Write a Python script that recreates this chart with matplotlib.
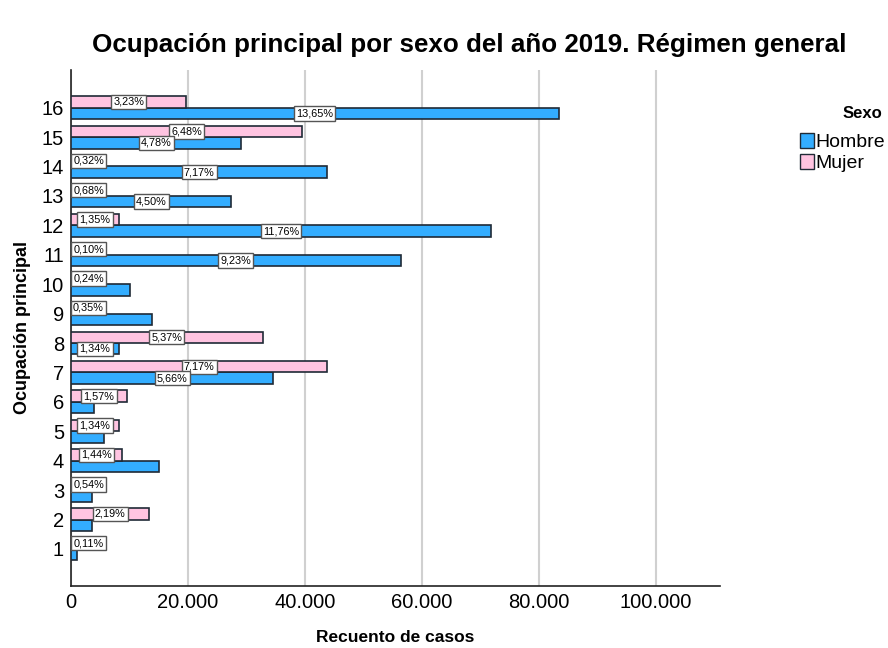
import matplotlib.pyplot as plt
from matplotlib.patches import Patch

plt.rcParams['font.family'] = ['Liberation Sans', 'DejaVu Sans']

# Ocupación principal 1..16
categorias = list(range(1, 17))
hombre = [1030, 3600, 3600, 15070, 5650, 3940, 34580, 8190,
          13900, 10100, 56400, 71750, 27400, 43800, 29100, 83400]
mujer = [672, 13380, 3300, 8800, 8190, 9590, 43800, 32800,
         2140, 1466, 611, 8250, 4150, 1955, 39590, 19730]
etiquetas_hombre = [None, None, None, None, None, None, '5,66%', '1,34%',
                    None, None, '9,23%', '11,76%', '4,50%', '7,17%', '4,78%', '13,65%']
etiquetas_mujer = ['0,11%', '2,19%', '0,54%', '1,44%', '1,34%', '1,57%', '7,17%', '5,37%',
                   '0,35%', '0,24%', '0,10%', '1,35%', '0,68%', '0,32%', '6,48%', '3,23%']

color_h = '#33adff'
color_m = '#ffc4e1'
edge = '#1f2a36'

fig = plt.figure(figsize=(8.88, 6.48), dpi=100)
ax = fig.add_axes([71 / 888, 1 - 586 / 648, (720 - 71) / 888, (586 - 70) / 648])

# mujer arriba, hombre abajo dentro de cada categoria
h = 0.39
y_m = [c + h / 2 for c in categorias]
y_h = [c - h / 2 for c in categorias]
ax.barh(y_h, hombre, height=h, color=color_h, edgecolor=edge, linewidth=1.2, zorder=3)
ax.barh(y_m, mujer, height=h, color=color_m, edgecolor=edge, linewidth=1.2, zorder=3)

box = dict(boxstyle='square,pad=0.2', fc='white', ec='#555555', lw=1)


def etiquetar(ys, vals, labels):
    for y, v, t in zip(ys, vals, labels):
        if t is None:
            continue
        x = max(v / 2, 3000)
        ax.text(x, y, t, ha='center', va='center', fontsize=7.8,
                bbox=box, zorder=5)


etiquetar(y_m, mujer, etiquetas_mujer)
etiquetar(y_h, hombre, etiquetas_hombre)

ax.set_xlim(0, 111000)
ax.set_ylim(-0.26, 17.28)
ax.set_yticks(categorias)
ax.set_yticklabels([str(c) for c in categorias], fontsize=14.5)
xt = [0, 20000, 40000, 60000, 80000, 100000]
ax.set_xticks(xt)
ax.set_xticklabels(['0', '20.000', '40.000', '60.000', '80.000', '100.000'], fontsize=14.5)
ax.tick_params(length=0, pad=5)
ax.grid(axis='x', color='#d0d0d0', linewidth=1.5, zorder=0)
ax.set_axisbelow(True)
for s in ['top', 'right']:
    ax.spines[s].set_visible(False)
for s in ['left', 'bottom']:
    ax.spines[s].set_color('#222222')
    ax.spines[s].set_linewidth(1.2)

ax.set_xlabel('Recuento de casos', fontsize=12.5, fontweight='bold', labelpad=13)
ax.set_ylabel('Ocupación principal', fontsize=13, fontweight='bold', labelpad=8)
fig.text(469 / 888, 1 - 45 / 648, 'Ocupación principal por sexo del año 2019. Régimen general',
         ha='center', va='center', fontsize=18.7, fontweight='bold')

fig.text(862 / 888, 1 - 113 / 648, 'Sexo', ha='center', va='center',
         fontsize=12, fontweight='bold')
handles = [Patch(facecolor=color_h, edgecolor=edge, label='Hombre'),
           Patch(facecolor=color_m, edgecolor=edge, label='Mujer')]
leg = fig.legend(handles=handles, loc='upper left',
                 bbox_to_anchor=(790 / 888, 1 - 123 / 648), frameon=False,
                 fontsize=14, handlelength=0.75, handleheight=0.8,
                 handletextpad=0.05, labelspacing=0.15, borderpad=0)

fig.savefig('out.png', dpi=100)
